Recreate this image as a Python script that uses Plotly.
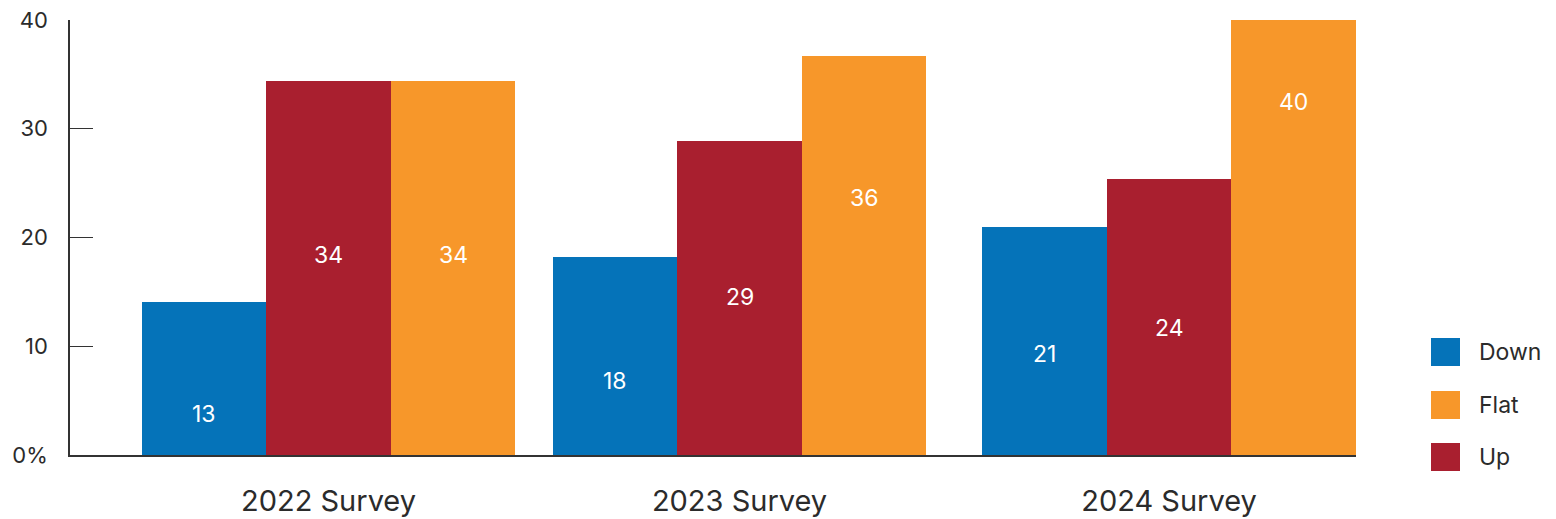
import plotly.graph_objects as go

# ---- data ----
categories = ["2022 Survey", "2023 Survey", "2024 Survey"]
down_values = [14.1, 18.2, 21.0]
up_values = [34.4, 28.9, 25.4]
flat_values = [34.4, 36.7, 40.0]
down_labels = ["13", "18", "21"]
up_labels = ["34", "29", "24"]
flat_labels = ["34", "36", "40"]
y_tick_vals = [0, 10, 20, 30, 40]
y_tick_text = ["0%", "10", "20", "30", "40"]

# ---- layout constants ----
group_pos = [258.5, 669.5, 1099.0]   # group centres on a numeric x axis
bar_w = 124.5
label_y = {
    "Down": [3.8, 6.8, 9.3],
    "Up": [18.4, 14.5, 11.7],
    "Flat": [18.4, 23.6, 32.5],
}
colors = {"Down": "#0573B9", "Up": "#A91F2F", "Flat": "#F7972A"}
FONT = "Inter, 'Open Sans', sans-serif"
TXT = "#2b2b2b"

series = [
    ("Down", down_values, down_labels, -1.5),
    ("Up", up_values, up_labels, -0.5),
    ("Flat", flat_values, flat_labels, 0.5),
]

fig = go.Figure()
annotations = []
for name, vals, labs, off in series:
    fig.add_trace(go.Bar(
        x=group_pos, y=vals, name=name,
        width=[bar_w] * len(vals), offset=off * bar_w,
        marker=dict(color=colors[name], line=dict(width=0)),
        showlegend=False, hoverinfo="skip",
    ))
    for xp, yl, lab in zip(group_pos, label_y[name], labs):
        annotations.append(dict(
            x=xp + (off + 0.5) * bar_w, y=yl, xref="x", yref="y",
            text=lab, showarrow=False,
            font=dict(family=FONT, size=23, color="white"),
        ))

# manual legend (order: Down, Flat, Up)
shapes = []
legend_order = ["Down", "Flat", "Up"]
leg_y_px = [352, 405, 457]
for name, ypx in zip(legend_order, leg_y_px):
    yc = 1 - (ypx - 20) / 435.0
    h = 28 / 435.0
    x0 = (1431 - 70) / 1286.0
    x1 = (1460 - 70) / 1286.0
    shapes.append(dict(type="rect", xref="paper", yref="paper",
                       x0=x0, x1=x1, y0=yc - h / 2, y1=yc + h / 2,
                       fillcolor=colors[name], line=dict(width=0)))
    annotations.append(dict(x=(1477 - 70) / 1286.0, y=yc, xref="paper", yref="paper",
                            text=name, showarrow=False, xanchor="left", yanchor="middle",
                            font=dict(family=FONT, size=23, color=TXT)))

fig.update_layout(
    width=1556, height=519,
    margin=dict(l=70, r=200, t=20, b=64, autoexpand=False),
    paper_bgcolor="white", plot_bgcolor="white",
    barmode="overlay",
    bargap=0,
    shapes=shapes,
    annotations=annotations,
    xaxis=dict(
        range=[0, 1286], tickmode="array", tickvals=group_pos, ticktext=categories,
        showgrid=False, zeroline=False, showline=True, linecolor="#333", linewidth=1.5,
        ticks="", ticklabelstandoff=19, automargin=False, ticklabeloverflow="allow",
        tickfont=dict(family=FONT, size=29, color=TXT), fixedrange=True,
    ),
    yaxis=dict(
        range=[0, 40], tickmode="array", tickvals=y_tick_vals, ticktext=y_tick_text,
        showgrid=False, zeroline=False, showline=True, linecolor="#333", linewidth=1.5,
        ticks="inside", ticklen=23, tickcolor="#333", tickwidth=1.2,
        ticklabelstandoff=16, automargin=False, ticklabeloverflow="allow",
        tickfont=dict(family=FONT, size=22, color=TXT), fixedrange=True,
    ),
    showlegend=False,
)

# remove the default 8px page margin so the figure fills the window exactly
fig.write_html(
    "out.html",
    config={"displayModeBar": False},
    post_script="document.body.style.margin='0';document.body.style.overflow='hidden';",
)
